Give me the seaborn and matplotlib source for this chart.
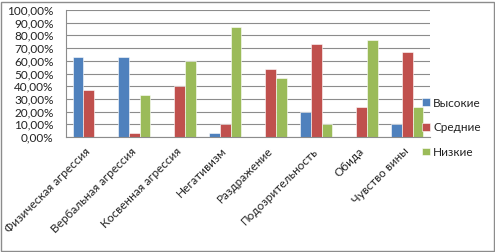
import numpy as np
import pandas as pd
import matplotlib
matplotlib.use('Agg')
import matplotlib.pyplot as plt
import seaborn as sns
from matplotlib.ticker import FuncFormatter, FixedLocator

#---------------------------------------------------------
l_cat=['Физическая агрессия', 'Вербальная агрессия', 'Косвенная агрессия', 'Негативизм',
	'Раздражение', 'Подозрительность', 'Обида', 'Чувство вины']
high=[63.33, 63.33, 0, 3.33, 0, 20.0, 0, 10.0]
mid=[36.67, 3.33, 40.0, 10.0, 53.33, 73.33, 23.33, 66.67]
low=[0, 33.33, 60.0, 86.67, 46.67, 10.0, 76.67, 23.33]
l_series=['Высокие', 'Средние', 'Низкие']
cmap=['#4F81BD', '#C0504D', '#9BBB59']

#--------------------------------------------------------
l_df=[]
for name, vals in zip(l_series, [high, mid, low]):
	l_df.append(pd.DataFrame({'cat': l_cat, 'val': vals, 'level': name}))
df=pd.concat(l_df, ignore_index=True)

sns.set_style('white')
plt.rcParams['font.family']=['Lato', 'DejaVu Sans']
fs=8.5
fig=plt.figure(figsize=(4.95, 2.52), dpi=100)
ax=fig.add_axes([0.1333, 0.4563, 0.7354, 0.504])
sns.barplot(data=df, x='cat', y='val', hue='level', palette=cmap, width=0.7,
	saturation=1, ax=ax, legend=True, linewidth=0.4, edgecolor='white')

#adjust
ax.set_ylim(0, 100)
ax.set_xlim(-0.5, len(l_cat)-0.5)
ax.yaxis.set_major_locator(FixedLocator(np.arange(0, 101, 10)))
ax.yaxis.set_major_formatter(FuncFormatter(lambda v, p: f'{v:.2f}%'.replace('.', ',')))
ax.grid(axis='y', color='#8c8c8c', linewidth=0.8)
ax.set_axisbelow(True)
ax.set_xlabel('')
ax.set_ylabel('')
for s in ['top', 'right']:
	ax.spines[s].set_visible(False)
for s in ['left', 'bottom']:
	ax.spines[s].set_color('#8c8c8c')
	ax.spines[s].set_linewidth(0.8)
ax.tick_params(axis='y', labelsize=fs, length=0, pad=9, labelcolor='#222222')
ax.tick_params(axis='x', which='major', labelsize=fs, length=0, pad=9, labelcolor='#222222')
ax.set_xticks(np.arange(-0.5, len(l_cat)), minor=True)
ax.tick_params(axis='x', which='minor', length=4, color='#8c8c8c', width=0.8)
plt.setp(ax.get_xticklabels(), rotation=45, ha='right', va='center', rotation_mode='anchor')

ax.get_legend().remove()
h, l=ax.get_legend_handles_labels()
leg=fig.legend(h, l, loc='upper left', bbox_to_anchor=(0.8525, 0.613), frameon=False,
	fontsize=fs, handlelength=0.65, handleheight=0.65, handletextpad=0.3,
	labelspacing=1.15, borderpad=0, borderaxespad=0)
for t in leg.get_texts():
	t.set_color('#222222')

fig.patches.append(plt.Rectangle((0.002, 0.004), 0.995, 0.99, transform=fig.transFigure,
	fill=False, edgecolor='#8c8c8c', linewidth=1))

plt.savefig('out.png', dpi=100)
plt.close()
